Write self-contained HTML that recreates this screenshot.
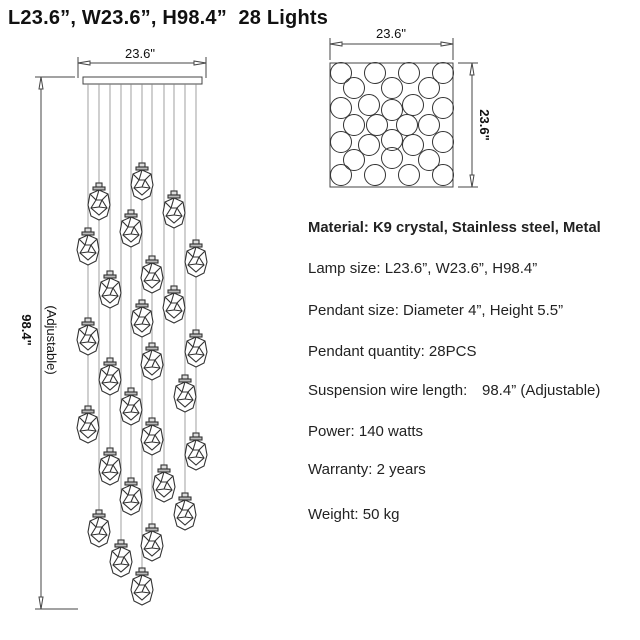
<!DOCTYPE html>
<html><head><meta charset="utf-8"><style>
html,body{margin:0;padding:0;background:#fff;}
svg{display:block;}
</style></head><body>
<svg width="640" height="640" viewBox="0 0 640 640" xmlns="http://www.w3.org/2000/svg">
<defs>
<g id="p" fill="none" stroke="#333" stroke-width="1.1">
<rect x="-3" y="0" width="6" height="4" fill="#ddd"/>
<rect x="-6" y="4" width="12" height="3" fill="#bbb"/>
<polygon points="0,7 9,11 11,22 8,33 0,37 -8,33 -11,22 -9,11" fill="#fff"/>
<polyline points="-9,11 -3,17 -8,25 0,32 8,25 3,17 9,11"/>
<polyline points="-3,17 3,17 0,24 -8,25"/>
<polyline points="0,24 8,25"/>
<polyline points="0,7 -3,17"/>
</g>
</defs>
<text x="8" y="24" font-family="Liberation Sans, sans-serif" font-weight="bold" font-size="20" letter-spacing="0.2" fill="#111" xml:space="preserve">L23.6”, W23.6”, H98.4”  28 Lights</text>

<g stroke="#444" stroke-width="1" fill="none">
<line x1="78" y1="63" x2="206" y2="63"/>
<line x1="78" y1="57" x2="78" y2="78"/>
<line x1="206" y1="57" x2="206" y2="78"/>
<polygon points="78,63 90,61 90,65" fill="#fff"/>
<polygon points="206,63 194,61 194,65" fill="#fff"/>
<line x1="35" y1="77" x2="75" y2="77"/>
<line x1="35" y1="609" x2="78" y2="609"/>
<line x1="41" y1="77" x2="41" y2="609"/>
<polygon points="41,77 39,89 43,89" fill="#fff"/>
<polygon points="41,609 39,597 43,597" fill="#fff"/>
<rect x="83" y="77" width="119" height="7" fill="#fff"/>
</g>
<text x="140" y="58" text-anchor="middle" font-family="Liberation Sans, sans-serif" font-size="13" fill="#111">23.6"</text>
<text transform="translate(22,330) rotate(90)" text-anchor="middle" font-family="Liberation Sans, sans-serif" font-weight="bold" font-size="13" fill="#111">98.4"</text>
<text transform="translate(47,340) rotate(90)" text-anchor="middle" font-family="Liberation Sans, sans-serif" font-size="13" fill="#111">(Adjustable)</text>

<g stroke="#888" stroke-width="0.8">
<line x1="88" y1="84" x2="88" y2="408"/>
<line x1="99" y1="84" x2="99" y2="512"/>
<line x1="110" y1="84" x2="110" y2="450"/>
<line x1="121" y1="84" x2="121" y2="542"/>
<line x1="131" y1="84" x2="131" y2="480"/>
<line x1="142" y1="84" x2="142" y2="570"/>
<line x1="152" y1="84" x2="152" y2="526"/>
<line x1="164" y1="84" x2="164" y2="467"/>
<line x1="174" y1="84" x2="174" y2="288"/>
<line x1="185" y1="84" x2="185" y2="495"/>
<line x1="196" y1="84" x2="196" y2="435"/>
</g>
<g>
<use href="#p" x="99" y="183"/>
<use href="#p" x="142" y="163"/>
<use href="#p" x="174" y="191"/>
<use href="#p" x="131" y="210"/>
<use href="#p" x="88" y="228"/>
<use href="#p" x="196" y="240"/>
<use href="#p" x="152" y="256"/>
<use href="#p" x="110" y="271"/>
<use href="#p" x="174" y="286"/>
<use href="#p" x="142" y="300"/>
<use href="#p" x="88" y="318"/>
<use href="#p" x="196" y="330"/>
<use href="#p" x="152" y="343"/>
<use href="#p" x="110" y="358"/>
<use href="#p" x="185" y="375"/>
<use href="#p" x="131" y="388"/>
<use href="#p" x="88" y="406"/>
<use href="#p" x="152" y="418"/>
<use href="#p" x="196" y="433"/>
<use href="#p" x="110" y="448"/>
<use href="#p" x="164" y="465"/>
<use href="#p" x="131" y="478"/>
<use href="#p" x="185" y="493"/>
<use href="#p" x="99" y="510"/>
<use href="#p" x="152" y="524"/>
<use href="#p" x="121" y="540"/>
<use href="#p" x="142" y="568"/>
</g>

<g stroke="#444" stroke-width="1" fill="none">
<line x1="330" y1="44" x2="453" y2="44"/>
<line x1="330" y1="38" x2="330" y2="60"/>
<line x1="453" y1="38" x2="453" y2="60"/>
<polygon points="330,44 342,42 342,46" fill="#fff"/>
<polygon points="453,44 441,42 441,46" fill="#fff"/>
<line x1="472" y1="63" x2="472" y2="187"/>
<line x1="458" y1="63" x2="478" y2="63"/>
<line x1="458" y1="187" x2="478" y2="187"/>
<polygon points="472,63 470,75 474,75" fill="#fff"/>
<polygon points="472,187 470,175 474,175" fill="#fff"/>
<rect x="330" y="63" width="123" height="124"/>
<g stroke="#333">
<circle cx="341" cy="73" r="10.5"/><circle cx="375" cy="73" r="10.5"/><circle cx="409" cy="73" r="10.5"/><circle cx="443" cy="73" r="10.5"/>
<circle cx="354" cy="88" r="10.5"/><circle cx="392" cy="88" r="10.5"/><circle cx="429" cy="88" r="10.5"/>
<circle cx="341" cy="108" r="10.5"/><circle cx="369" cy="105" r="10.5"/><circle cx="392" cy="110" r="10.5"/><circle cx="413" cy="105" r="10.5"/><circle cx="443" cy="108" r="10.5"/>
<circle cx="354" cy="125" r="10.5"/><circle cx="377" cy="125" r="10.5"/><circle cx="407" cy="125" r="10.5"/><circle cx="429" cy="125" r="10.5"/>
<circle cx="341" cy="142" r="10.5"/><circle cx="369" cy="145" r="10.5"/><circle cx="392" cy="140" r="10.5"/><circle cx="413" cy="145" r="10.5"/><circle cx="443" cy="142" r="10.5"/>
<circle cx="354" cy="160" r="10.5"/><circle cx="392" cy="158" r="10.5"/><circle cx="429" cy="160" r="10.5"/>
<circle cx="341" cy="175" r="10.5"/><circle cx="375" cy="175" r="10.5"/><circle cx="409" cy="175" r="10.5"/><circle cx="443" cy="175" r="10.5"/>
</g>
</g>
<text x="391" y="38" text-anchor="middle" font-family="Liberation Sans, sans-serif" font-size="13" fill="#111">23.6"</text>
<text transform="translate(480,125) rotate(90)" text-anchor="middle" font-family="Liberation Sans, sans-serif" font-weight="bold" font-size="13" fill="#111">23.6"</text>

<g font-family="Liberation Sans, sans-serif" font-size="15" fill="#222" xml:space="preserve">
<text x="308" y="232" font-weight="bold" font-size="14.8">Material: K9 crystal, Stainless steel, Metal</text>
<text x="308" y="273">Lamp size: L23.6”, W23.6”, H98.4”</text>
<text x="308" y="315">Pendant size: Diameter 4”, Height 5.5”</text>
<text x="308" y="356">Pendant quantity: 28PCS</text>
<text x="308" y="395">Suspension wire length:</text>
<text x="482" y="395">98.4” (Adjustable)</text>
<text x="308" y="436">Power:  140 watts</text>
<text x="308" y="474">Warranty: 2 years</text>
<text x="308" y="519">Weight:  50 kg</text>
</g>
</svg>
</body></html>
